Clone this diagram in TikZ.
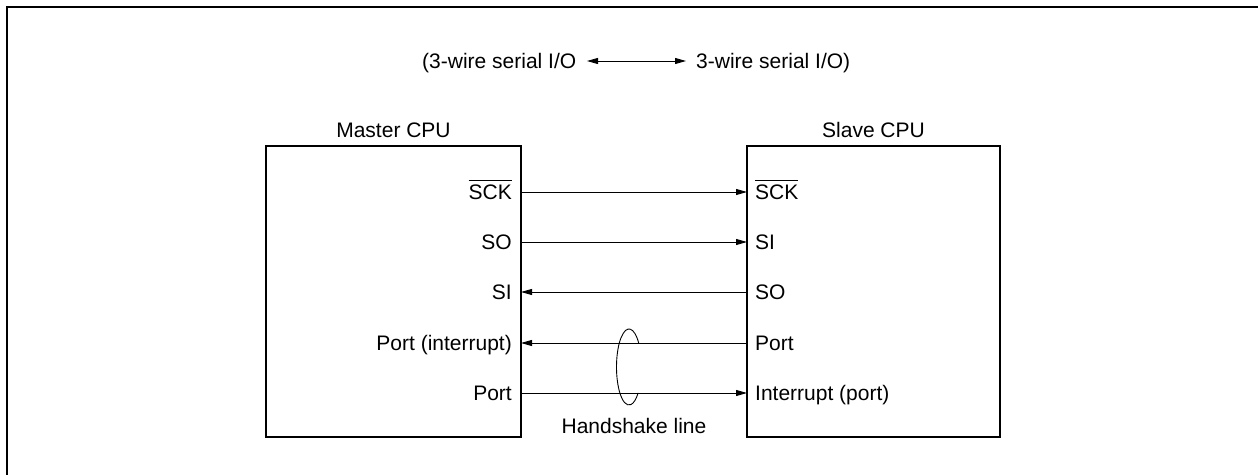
\documentclass[tikz,border=0pt]{standalone}
\usepackage{fontspec}
\setmainfont{Liberation Sans}
\usetikzlibrary{arrows.meta}
\newcommand\myovl[1]{\leavevmode\vbox{\hrule height 1pt \kern 4pt \hbox{#1}}}
\begin{document}
\begin{tikzpicture}[x=1pt,y=-1pt,
  lbl/.style={inner sep=0pt,font=\fontsize{21}{25}\selectfont},
  cpu/.style={draw,line width=2.5pt,inner sep=0pt},
  sig/.style={line width=0.9pt,-{Triangle[length=11pt,width=6pt]}},
  frame/.style={line width=2.2pt}]
\useasboundingbox (0,0) rectangle (1258,474);
% outer frame (only top and left edges visible)
\draw[frame] (7,490) -- (7,7) -- (1270,7);
% title
\node[lbl,anchor=base west] (tl) at (422,68) {(3-wire serial I/O};
\node[lbl,anchor=base west] (tr) at (696,68) {3-wire serial I/O)};
\coordinate (ta) at (587,61);
\coordinate (tb) at (686,61);
\draw[line width=0.9pt,{Triangle[length=11pt,width=6pt]}-{Triangle[length=11pt,width=6pt]}] (ta) -- (tb);
% boxes
\draw[cpu] (266,146) rectangle (521,437);
\draw[cpu] (747,146) rectangle (1000,437);
\node[lbl,anchor=base] (mt) at (393.5,137) {Master CPU};
\node[lbl,anchor=base] (st) at (873.5,137) {Slave CPU};
% master labels
\node[lbl,anchor=base east] (m1) at (512,199.5) {\myovl{SCK}};
\node[lbl,anchor=base east] (m2) at (512,249.5) {SO};
\node[lbl,anchor=base east] (m3) at (512,299.5) {SI};
\node[lbl,anchor=base east] (m4) at (512,350.5) {Port (interrupt)};
\node[lbl,anchor=base east] (m5) at (512,400.5) {Port};
% slave labels
\node[lbl,anchor=base west] (s1) at (755,199.5) {\myovl{SCK}};
\node[lbl,anchor=base west] (s2) at (755,249.5) {SI};
\node[lbl,anchor=base west] (s3) at (755,299.5) {SO};
\node[lbl,anchor=base west] (s4) at (755,350.5) {Port};
\node[lbl,anchor=base west] (s5) at (755,400.5) {Interrupt (port)};
% edge coordinates
\coordinate (a1) at (521,192); \coordinate (b1) at (747,192);
\coordinate (a2) at (521,242); \coordinate (b2) at (747,242);
\coordinate (a3) at (521,292); \coordinate (b3) at (747,292);
\coordinate (a4) at (521,343); \coordinate (b4) at (747,343);
\coordinate (a5) at (521,393); \coordinate (b5) at (747,393);
\draw[sig] (a1) -- (b1);
\draw[sig] (a2) -- (b2);
\draw[sig] (b3) -- (a3);
\draw[sig] (b4) -- (a4);
\draw[sig] (a5) -- (b5);
% handshake loop
\coordinate (hc) at (629,367);
\draw[line width=0.9pt] (hc) ++(39:12.5 and -38) arc[start angle=39,end angle=317,x radius=12.5,y radius=-38];
\node[lbl,anchor=base] (hs) at (634,433) {Handshake line};
\end{tikzpicture}
\end{document}
